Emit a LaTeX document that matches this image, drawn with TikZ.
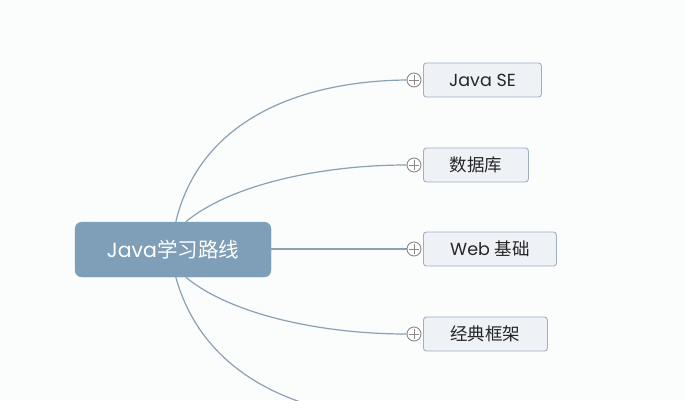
\documentclass[tikz,border=0pt]{standalone}
\usepackage{fontspec}
\setmainfont{Poppins}
\newfontfamily\cjk{Noto Sans CJK SC}
\definecolor{bgc}{HTML}{FBFCFC}
\definecolor{rootfill}{HTML}{7F9EB7}
\definecolor{boxfill}{HTML}{EEF2F6}
\definecolor{boxline}{HTML}{9DB0C4}
\definecolor{linkc}{HTML}{8AA0B4}
\definecolor{circc}{HTML}{8A8A8A}
\tikzset{
  rootbox/.style={draw=rootfill, fill=rootfill, rounded corners=7pt, text=white,
    minimum width=196pt, minimum height=55pt, inner sep=0pt, font=\fontsize{20.5pt}{23pt}\selectfont},
  childbox/.style={draw=boxline, fill=boxfill, rounded corners=3pt, text=black!85,
    anchor=west, minimum height=34pt, inner sep=0pt, line width=0.9pt, font=\fontsize{17.5pt}{20pt}\selectfont},
  link/.style={draw=linkc, line width=1.2pt},
  toggle/.style={circle, draw=circc, fill=white, line width=0.9pt, minimum size=14pt, inner sep=0pt,
    path picture={\draw[circc, line width=0.9pt] ([xshift=-5pt]path picture bounding box.center) -- ([xshift=5pt]path picture bounding box.center)
      ([yshift=-5pt]path picture bounding box.center) -- ([yshift=5pt]path picture bounding box.center);}}
}
\begin{document}
\begin{tikzpicture}[x=1pt,y=-1pt]
\fill[bgc] (0,0) rectangle (686,400);
\useasboundingbox (0,0) rectangle (686,400);
\clip (0,0) rectangle (686,400);

\node[rootbox] (root) at (173,249.5) {Java{\cjk 学习路线}};

\node[childbox, minimum width=118pt] (c1) at (423,80) {Java SE};
\node[childbox, minimum width=105pt] (c2) at (423,165) {\cjk 数据库};
\node[childbox, minimum width=133pt] (c3) at (423,249) {Web {\cjk 基础}};
\node[childbox, minimum width=124pt] (c4) at (423,334) {\cjk 经典框架};
\node[childbox, minimum width=124pt] (c5) at (423,419) {};

\node[toggle] (t1) at (414,80) {};
\node[toggle] (t2) at (414,165) {};
\node[toggle] (t3) at (414,249) {};
\node[toggle] (t4) at (414,334) {};
\node[toggle] (t5) at (414,419) {};

\coordinate (r1) at ([xshift=101pt]root.north west);
\coordinate (r2) at ([xshift=111pt]root.north west);
\coordinate (r4) at ([xshift=111pt]root.south west);
\coordinate (r5) at ([xshift=101pt]root.south west);

\draw[link] (r1) .. controls (200,120) and (300,81) .. (t1.west);
\draw[link] (r2) .. controls (230,185) and (320,165) .. (t2.west);
\draw[link] (root.east |- t3.west) -- (t3.west);
\draw[link] (r4) .. controls (230,314) and (320,334) .. (t4.west);
\draw[link] (r5) .. controls (204,379) and (305,418) .. (t5.west);
\end{tikzpicture}
\end{document}
